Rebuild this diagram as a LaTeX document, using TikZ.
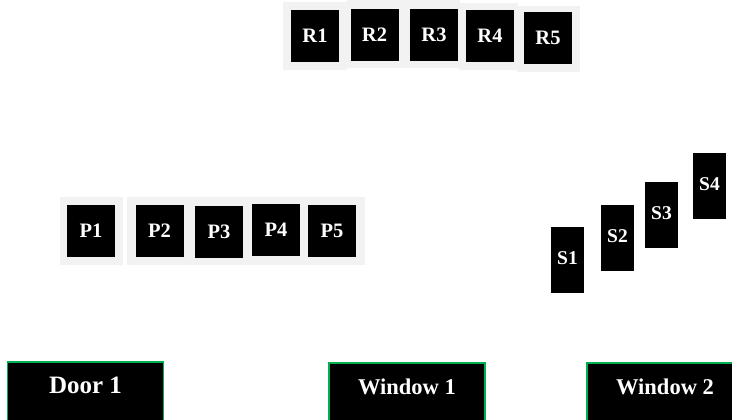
\documentclass[tikz,border=0pt]{standalone}
\usepackage{fontspec}
\setmainfont{Liberation Serif}
\definecolor{padgray}{HTML}{F2F2F2}
\definecolor{framegreen}{HTML}{00B050}

\begin{document}
\begin{tikzpicture}[x=1pt, y=-1pt,
    seat/.style={fill=black, text=white, inner sep=0pt,
        minimum width=48pt, minimum height=52pt,
        font=\bfseries\fontsize{20.5}{20.5}\selectfont},
    slot/.style={seat, minimum width=33pt, minimum height=66pt,
        font=\bfseries\fontsize{19.5}{19.5}\selectfont},
    opening/.style={fill=black, draw=framegreen, line width=1.5pt, text=white,
        minimum width=156pt, minimum height=72pt, anchor=north,
        text height=12pt, text depth=20pt,
        font=\bfseries\fontsize{22.5}{22.5}\selectfont}]
    \useasboundingbox (0,0) rectangle (732,420);

    % grey pads behind the rows
    \fill[padgray] (283,2) rectangle (347,70);
    \fill[padgray] (347,0) rectangle (460,68);
    \fill[padgray] (459,3) rectangle (518,70);
    \fill[padgray] (517,6) rectangle (580,72);
    \fill[padgray] (60,197) rectangle (123,265);
    \fill[padgray] (127,197) rectangle (365,265);

    % top row
    \foreach \n/\x/\y in {1/315/36, 2/374.5/35, 3/434/35, 4/490/36, 5/548/38}
        \node[seat] (r\n) at (\x,\y) {R\n};

    % left row
    \foreach \n/\x/\y in {1/91/231, 2/159.5/231, 3/219/232, 4/276/230, 5/332/231}
        \node[seat] (p\n) at (\x,\y) {P\n};

    % stepped row
    \foreach \n/\x/\y in {1/567.5/260, 2/617.5/238, 3/661.5/215, 4/709.5/186}
        \node[slot, text depth=4pt] (s\n) at (\x,\y) {S\n};

    % openings along the bottom
    \node[opening, font=\bfseries\fontsize{25}{25}\selectfont] (door1) at (85.5,361) {Door 1};
    \node[opening] (window1) at (407,362) {Window 1};
    \node[opening] (window2) at (665,362) {Window 2};
\end{tikzpicture}
\end{document}
